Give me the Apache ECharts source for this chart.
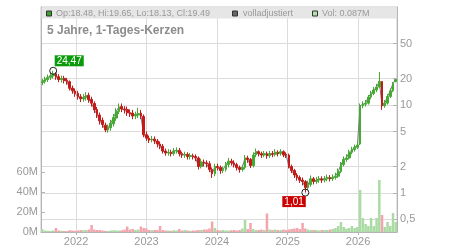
<!DOCTYPE html>
<html>
<head>
<meta charset="utf-8">
<script src="https://cdn.jsdelivr.net/npm/echarts@6/dist/echarts.min.js"></script>
<style>
html,body{margin:0;padding:0;background:#fff}
#chart{width:450px;height:250px}
</style>
</head>
<body>
<div id="chart"></div>
<script>
// Zeitraum (5 Jahre)
var startDate = '2021-07-10';
var endDate = '2026-07-15';

// Kerzen, je ca. 2 Wochen
var opens = [18.0,18.5,19.4,20.6,21.4,22.6,21.0,19.4,20.1,19.1,18.4,15.6,14.4,13.6,12.4,11.7,12.1,12.9,11.6,10.4,
  8.9,7.7,6.7,5.9,5.2,5.5,6.1,7.1,8.4,9.6,9.0,8.9,8.2,8.1,7.5,7.7,8.1,7.4,4.6,4.2,
  4.0,4.1,3.9,3.6,3.4,3.0,2.85,2.9,2.8,3.0,3.05,2.8,2.7,2.75,2.6,2.65,2.6,2.5,2.0,2.25,
  2.2,2.15,1.85,1.65,2.0,1.95,1.8,1.85,2.1,2.3,2.2,2.1,1.95,1.85,1.95,2.5,2.4,2.05,2.7,2.95,
  2.8,2.7,2.8,2.65,2.8,2.75,2.9,2.8,2.95,2.75,2.7,2.0,1.8,1.6,1.5,1.4,1.35,1.15,1.25,1.45,
  1.35,1.4,1.45,1.4,1.45,1.5,1.45,1.5,1.55,1.75,2.1,2.4,2.5,2.9,3.1,3.3,3.6,9.8,10.2,10.5,
  12.3,13.5,14.8,16.0,18.5,9.8,10.5,12.5,14.5,18.48];
var closes = [18.5,19.5,20.5,21.5,22.5,21.0,19.5,20.0,19.0,18.5,15.5,14.5,13.5,12.5,11.8,12.2,12.8,11.5,10.5,8.8,
  7.8,6.6,6.0,5.2,5.5,6.2,7.2,8.5,9.5,9.0,8.8,8.2,8.0,7.5,7.8,8.0,7.5,4.6,4.2,4.0,
  4.1,3.9,3.6,3.4,3.0,2.85,2.9,2.8,3.0,3.05,2.8,2.7,2.75,2.6,2.65,2.6,2.5,2.0,2.25,2.2,
  2.15,1.85,1.65,2.0,1.95,1.8,1.85,2.1,2.3,2.2,2.1,1.95,1.85,1.95,2.5,2.4,2.05,2.7,2.95,2.8,
  2.7,2.8,2.65,2.8,2.75,2.9,2.8,2.95,2.7,2.7,2.0,1.8,1.6,1.5,1.4,1.35,1.15,1.25,1.45,1.35,
  1.4,1.45,1.4,1.45,1.5,1.45,1.5,1.55,1.75,2.1,2.4,2.5,2.9,3.1,3.3,3.5,9.8,10.2,10.5,12.3,
  13.5,14.8,16.0,18.5,9.8,10.5,12.5,14.5,17.5,19.49];
var lows = [16.8,17.5,18.3,19.2,20.0,19.3,18.2,18.0,17.6,17.0,14.6,13.4,12.4,11.5,10.8,10.9,11.2,10.6,9.6,8.1,
  7.1,6.0,5.5,4.9,4.85,5.1,5.7,6.6,7.9,8.3,8.0,7.5,7.3,6.9,6.9,7.1,6.9,4.3,3.9,3.7,
  3.75,3.6,3.3,3.15,2.8,2.65,2.65,2.6,2.65,2.8,2.6,2.5,2.5,2.4,2.4,2.4,2.3,1.85,1.9,2.0,
  1.95,1.72,1.48,1.55,1.8,1.65,1.68,1.75,1.95,2.05,1.95,1.8,1.7,1.75,1.85,2.2,1.92,1.95,2.55,2.6,
  2.5,2.55,2.45,2.5,2.55,2.6,2.6,2.65,2.55,2.5,1.9,1.68,1.48,1.38,1.3,1.22,1.01,1.08,1.18,1.25,
  1.27,1.3,1.3,1.32,1.36,1.35,1.37,1.42,1.48,1.68,2.0,2.25,2.4,2.75,2.95,3.15,3.5,9.2,9.6,10.1,
  11.6,12.9,14.0,15.5,8.8,9.3,10.1,12.0,14.0,18.13];
var highs = [19.8,21.0,22.2,23.2,24.47,23.6,22.4,21.6,21.5,20.3,19.0,16.6,15.4,14.5,13.3,13.3,14.0,13.8,12.4,11.0,
  9.5,8.2,7.2,6.3,6.0,6.8,7.9,9.2,10.4,10.4,9.7,9.6,8.9,8.8,8.4,9.3,8.8,7.8,5.0,4.5,
  4.45,4.4,4.1,3.85,3.6,3.2,3.15,3.1,3.25,3.3,3.25,2.95,2.95,2.9,2.85,2.8,2.75,2.6,2.45,2.4,
  2.35,2.3,1.95,2.15,2.15,2.05,2.0,2.25,2.5,2.45,2.35,2.2,2.05,2.1,2.7,2.65,2.5,2.9,3.2,3.05,
  2.95,3.0,2.95,3.0,3.0,3.15,3.05,3.15,3.05,2.9,2.8,2.1,1.88,1.68,1.58,1.5,1.4,1.38,1.58,1.52,
  1.52,1.56,1.55,1.56,1.62,1.6,1.63,1.7,1.9,2.25,2.6,2.75,3.1,3.35,3.55,3.75,10.4,11.0,11.4,13.0,
  14.5,16.0,17.4,23.7,18.6,11.4,13.3,15.5,18.3,19.65];
// Volumen in Mio.
var volumes = [3,1.5,1.2,1.0,1.5,4,1.5,1.2,1.0,0.8,1.8,1.5,1.2,1.5,2,1.8,2,2.5,7,2.5,
  2,2,1.5,1.2,1,1.5,1.8,1.5,1.5,1.8,2.5,5.5,2.5,3,2,2.5,5.5,4,3.5,2,
  1.8,2,2,6,2,1.5,1.5,1.2,1.8,1.5,3,1.5,2,1.5,1.2,1.5,1.5,2,2,2.5,
  2.5,3.5,10.5,4,2,1.5,2,1.5,1.5,1.8,2,1.5,2,3.5,12,3,9,3,2,2,
  2.5,2,18.5,2.5,2,2.5,2,2,2.5,2,2.5,3,3.5,4,3,9,3.5,2.5,2,2,
  2,1.5,2,2,2,2.5,3,4,6,10,5,3.5,4,6,4,5,42,14,8,6,
  14,6,14,52,17,5,10,6,19,10];

var priceTicks = [0.5, 1, 2, 5, 10, 20, 50];
var volTicks = [0, 20, 40, 60];

var t0 = +new Date(startDate), t1 = +new Date(endDate);
var n = closes.length;
var dates = [];
for (var i = 0; i < n; i++) dates.push(t0 + (t1 - t0) * i / (n - 1));

var candleData = [], volData = [], lineData = [];
for (var i = 0; i < n; i++) {
  candleData.push([dates[i], opens[i], closes[i], lows[i], highs[i]]);
  volData.push([dates[i], volumes[i]]);
  lineData.push([dates[i], closes[i]]);
}

var grey = '#999';
var year = 365 * 24 * 3600 * 1000;
var chart = echarts.init(document.getElementById('chart'));
chart.setOption({
  animation: false,
  backgroundColor: '#fff',
  grid: { left: 41, right: 53, top: 7, bottom: 18, show: true, borderColor: '#c8c8c8', borderWidth: 1 },
  xAxis: {
    type: 'time', min: t0, max: t1, minInterval: year, splitNumber: 5,
    axisLine: { lineStyle: { color: '#b4b4b4' } },
    axisTick: { show: true, length: 3, lineStyle: { color: '#b4b4b4' } },
    axisLabel: { color: grey, fontSize: 11, margin: 4, fontFamily: 'Liberation Sans, Arial',
      formatter: '{yyyy}' },
    splitLine: { show: true, lineStyle: { color: '#dcdcdc', width: 1 } }
  },
  yAxis: [{
    type: 'log', position: 'right', min: 0.36, max: 130, logBase: 10,
    axisLine: { show: true, lineStyle: { color: '#b4b4b4' } },
    axisTick: { show: true, inside: true, length: 4, lineStyle: { color: '#b4b4b4' }, customValues: priceTicks },
    axisLabel: { color: grey, fontSize: 11, margin: 3, fontFamily: 'Liberation Sans, Arial', customValues: priceTicks,
      formatter: function (v) { return String(v).replace('.', ','); } },
    splitLine: { show: true, lineStyle: { color: '#dcdcdc', width: 1 } }
  }, {
    type: 'value', position: 'left', min: 0, max: 225,
    axisLine: { show: true, lineStyle: { color: '#b4b4b4' } },
    axisTick: { show: true, inside: true, length: 4, lineStyle: { color: '#b4b4b4' }, customValues: volTicks },
    axisLabel: { color: grey, fontSize: 11, margin: 3, fontFamily: 'Liberation Sans, Arial', customValues: volTicks,
      formatter: function (v) { return v + 'M'; } },
    splitLine: { show: false }
  }],
  series: [{
    type: 'bar', name: 'Vol', yAxisIndex: 1, data: volData, barWidth: 2.5, z: 1,
    itemStyle: { color: function (p) { return closes[p.dataIndex] >= opens[p.dataIndex] ? '#a9dba3' : '#f2a5ac'; } }
  }, {
    type: 'line', name: 'volladjustiert', yAxisIndex: 0, data: lineData, showSymbol: false, z: 2,
    lineStyle: { color: '#777', width: 1 }
  }, {
    type: 'candlestick', name: 'Kurs', yAxisIndex: 0, data: candleData, barWidth: 2.2, z: 3,
    itemStyle: { color: '#44aa33', color0: '#c41a1a', borderColor: '#44aa33', borderColor0: '#c41a1a', borderWidth: 1 },
    markPoint: {
      symbol: 'circle', symbolSize: 7,
      itemStyle: { color: 'rgba(255,255,255,0)', borderColor: '#222', borderWidth: 1 },
      label: { show: true, color: '#fff', fontSize: 10, fontFamily: 'Liberation Sans, Arial', padding: [1, 2, 0, 2],
        formatter: function (p) { return p.value.toFixed(2).replace('.', ','); } },
      data: [
        { type: 'max', valueDim: 'highest', label: { position: [5.5, -11.5], backgroundColor: '#0a9a0a' } },
        { type: 'min', valueDim: 'lowest', label: { position: [-19, 7.5], backgroundColor: '#cc0000' } }
      ]
    }
  }],
  graphic: [
    { type: 'rect', shape: { x: 41.5, y: 7.5, width: 355.5, height: 11 }, style: { fill: '#e6e6e6', stroke: '#c8c8c8', lineWidth: 0 }, z: 10 },
    { type: 'rect', shape: { x: 46.5, y: 11, width: 5, height: 5 }, style: { fill: '#3aa02a', stroke: '#333', lineWidth: 1 }, z: 11 },
    { type: 'text', x: 56, y: 13.5, style: { text: 'Op:18.48, Hi:19.65, Lo:18.13, Cl:19.49', fill: '#999', font: '9px "Liberation Sans", Arial', verticalAlign: 'middle' }, z: 11 },
    { type: 'rect', shape: { x: 232.5, y: 11, width: 5, height: 5 }, style: { fill: '#666', stroke: '#333', lineWidth: 1 }, z: 11 },
    { type: 'text', x: 243, y: 13.5, style: { text: 'volladjustiert', fill: '#999', font: '9px "Liberation Sans", Arial', verticalAlign: 'middle' }, z: 11 },
    { type: 'rect', shape: { x: 312.5, y: 11, width: 5, height: 5 }, style: { fill: '#b5e0ae', stroke: '#333', lineWidth: 1 }, z: 11 },
    { type: 'text', x: 322, y: 13.5, style: { text: 'Vol: 0.087M', fill: '#999', font: '9px "Liberation Sans", Arial', verticalAlign: 'middle' }, z: 11 },
    { type: 'text', x: 47, y: 30.5, style: { text: '5 Jahre, 1-Tages-Kerzen', fill: '#8c8c8c', font: 'bold 12px "Liberation Sans", Arial', verticalAlign: 'middle' }, z: 11 }
  ]
});
</script>
</body>
</html>
